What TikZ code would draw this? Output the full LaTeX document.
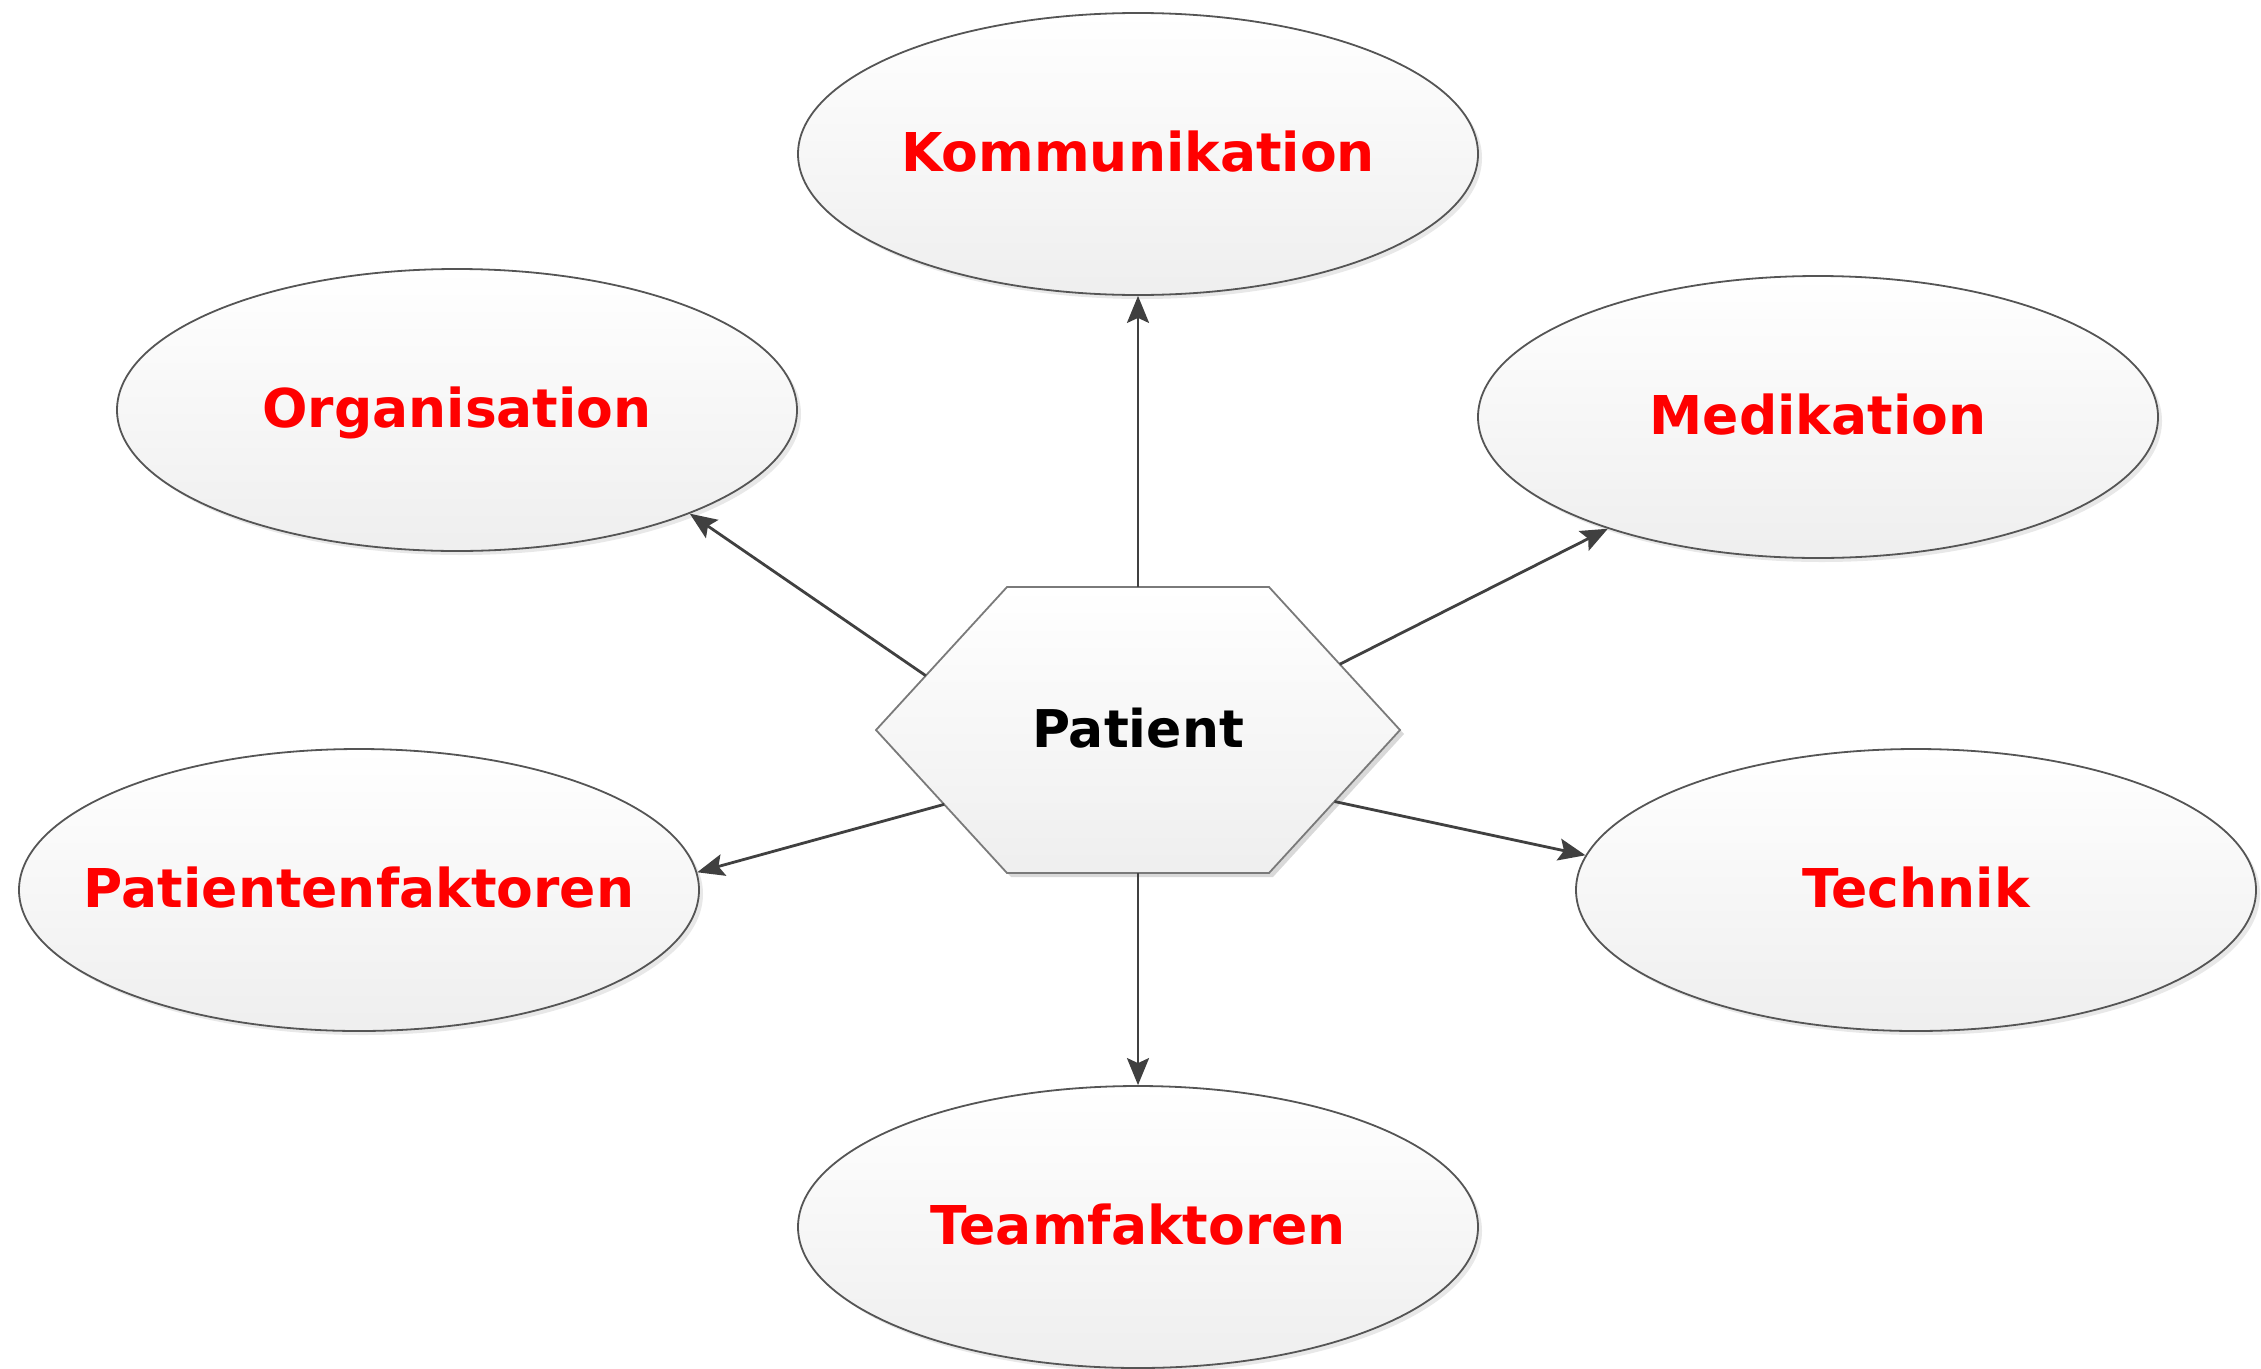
\documentclass[tikz,border=0pt]{standalone}
\usepackage{fontspec}
\setmainfont{DejaVu Sans}
\usetikzlibrary{shapes.geometric,arrows.meta,shadows,calc}
\definecolor{lbl}{HTML}{FF0000}
\definecolor{conn}{HTML}{404040}
\definecolor{rim}{HTML}{555555}
\definecolor{hexrim}{HTML}{7A7A7A}
\begin{document}
\begin{tikzpicture}[x=1pt,y=-1pt,
  factor/.style={ellipse, draw=rim, line width=1.8pt, minimum width=680pt, minimum height=282pt,
    inner ysep=0pt, inner xsep=-150pt, top color=white, bottom color=gray!13,
    drop shadow={opacity=0.18, shadow xshift=4pt, shadow yshift=-4pt},
    font=\fontsize{53.5}{64}\selectfont\bfseries, text=lbl, text height=48pt, text depth=14pt},
  centre/.style={font=\fontsize{52}{62}\selectfont\bfseries, text=black, inner sep=0pt, text height=48pt, text depth=14pt},
  link/.style={draw=conn, line width=2.8pt, -{Stealth[length=27pt,width=22pt,inset=5pt]}}]
\useasboundingbox (0,0) rectangle (2261,1368);
% ellipses
\node[factor] (kom)  at (1138,154)  {Kommunikation};
\node[factor] (org)  at (457,410)   {Organisation};
\node[factor] (med)  at (1818,417)  {Medikation};
\node[factor] (pat)  at (359,890)   {Patientenfaktoren};
\node[factor] (tech) at (1916,890)  {Technik};
\node[factor] (team) at (1138,1227) {Teamfaktoren};
% hexagon
\coordinate (hL)  at (876,730);
\coordinate (hUL) at (1007,587);
\coordinate (hUR) at (1269,587);
\coordinate (hR)  at (1400,730);
\coordinate (hLR) at (1269,873);
\coordinate (hLL) at (1007,873);
\fill[black, opacity=0.15] ([shift={(4,4)}]hL) -- ([shift={(4,4)}]hUL) -- ([shift={(4,4)}]hUR) -- ([shift={(4,4)}]hR) -- ([shift={(4,4)}]hLR) -- ([shift={(4,4)}]hLL) -- cycle;
\path[draw=hexrim, line width=1.8pt, top color=white, bottom color=gray!13]
  (hL) -- (hUL) -- (hUR) -- (hR) -- (hLR) -- (hLL) -- cycle;
\node[centre] (patient) at (1138,730) {Patient};
% connector starts on the hexagon
\coordinate (sOrg)  at ($(hL)!0.38!(hUL)$);
\coordinate (sMed)  at ($(hR)!0.46!(hUR)$);
\coordinate (sPat)  at ($(hL)!0.52!(hLL)$);
\coordinate (sTech) at ($(hR)!0.50!(hLR)$);
\coordinate (sKom)  at ($(hUL)!0.5!(hUR)$);
\coordinate (sTeam) at ($(hLL)!0.5!(hLR)$);
% connectors
\draw[link] (sKom)  -- (kom.south);
\draw[link] (sTeam) -- (team.north);
\draw[link] (sOrg)  -- (org.-24.8);
\draw[link] (sMed)  -- (med.208.5);
\draw[link] (sPat)  -- (pat.3.4);
\draw[link] (sTech) -- (tech.174.9);
\end{tikzpicture}
\end{document}
